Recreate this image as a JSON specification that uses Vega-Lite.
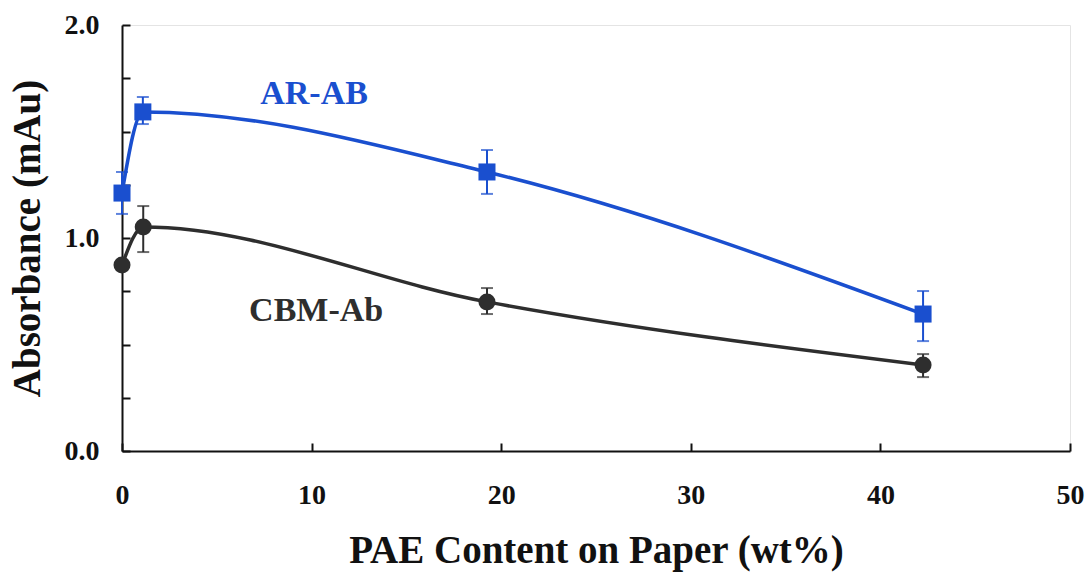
{
  "$schema": "https://vega.github.io/schema/vega-lite/v6.json",
  "width": 948,
  "height": 426,
  "autosize": "none",
  "padding": {"left": 122, "top": 25, "right": 19, "bottom": 121},
  "background": "white",
  "config": {
    "view": {"stroke": "#e4e4e4", "strokeWidth": 1},
    "font": "Liberation Serif",
    "axis": {
      "domainColor": "#111111",
      "domainWidth": 2,
      "tickColor": "#111111",
      "tickWidth": 2,
      "tickSize": -8,
      "grid": false,
      "labelFlush": false,
      "labelOverlap": false,
      "labelFont": "Liberation Serif",
      "labelFontWeight": "bold",
      "labelFontSize": 28,
      "labelColor": "#111111",
      "titleFont": "Liberation Serif",
      "titleFontWeight": "bold",
      "titleFontSize": 39,
      "titleColor": "#111111"
    }
  },
  "data": {
    "values": [
      {"series": "AR-AB", "x": 0, "y": 1.211, "lo": 1.113, "hi": 1.31},
      {"series": "AR-AB", "x": 1.1, "y": 1.592, "lo": 1.535, "hi": 1.662},
      {"series": "AR-AB", "x": 19.25, "y": 1.31, "lo": 1.207, "hi": 1.413},
      {"series": "AR-AB", "x": 42.25, "y": 0.643, "lo": 0.516, "hi": 0.751},
      {"series": "CBM-Ab", "x": 0, "y": 0.873, "lo": null, "hi": null},
      {"series": "CBM-Ab", "x": 1.12, "y": 1.052, "lo": 0.934, "hi": 1.15},
      {"series": "CBM-Ab", "x": 19.25, "y": 0.7, "lo": 0.643, "hi": 0.765},
      {"series": "CBM-Ab", "x": 42.25, "y": 0.404, "lo": 0.347, "hi": 0.455}
    ]
  },
  "encoding": {
    "x": {
      "field": "x", "type": "quantitative",
      "scale": {"domain": [0, 50], "nice": false, "zero": false},
      "axis": {
        "values": [0, 10, 20, 30, 40, 50],
        "labelPadding": 38,
        "title": "PAE Content on Paper (wt%)",
        "titleY": 111,
        "titleBaseline": "alphabetic"
      }
    },
    "y": {
      "field": "y", "type": "quantitative",
      "scale": {"domain": [0, 2], "nice": false},
      "axis": {
        "values": [0, 0.25, 0.5, 0.75, 1, 1.25, 1.5, 1.75, 2],
        "labelExpr": "datum.value % 1 == 0 ? format(datum.value, '.1f') : ''",
        "labelPadding": 31,
        "title": "Absorbance (mAu)",
        "titleX": -95,
        "titleBaseline": "middle"
      }
    },
    "color": {
      "field": "series", "type": "nominal",
      "scale": {"domain": ["AR-AB", "CBM-Ab"], "range": ["#1a4fcf", "#2e2e2e"]},
      "legend": null
    }
  },
  "layer": [
    {
      "mark": {"type": "line", "interpolate": "monotone", "strokeWidth": 3.5}
    },
    {
      "mark": {"type": "rule", "strokeWidth": 2},
      "encoding": {"y": {"field": "lo", "type": "quantitative"}, "y2": {"field": "hi"}}
    },
    {
      "mark": {"type": "tick", "orient": "horizontal", "size": 12, "thickness": 2},
      "encoding": {"y": {"field": "lo", "type": "quantitative"}}
    },
    {
      "mark": {"type": "tick", "orient": "horizontal", "size": 12, "thickness": 2},
      "encoding": {"y": {"field": "hi", "type": "quantitative"}}
    },
    {
      "mark": {"type": "point", "filled": true, "opacity": 1, "size": 290},
      "encoding": {
        "shape": {"field": "series", "type": "nominal", "scale": {"domain": ["AR-AB", "CBM-Ab"], "range": ["square", "circle"]}, "legend": null}
      }
    },
    {
      "data": {
        "values": [
          {"series": "AR-AB", "x": 10.13, "y": 1.628},
          {"series": "CBM-Ab", "x": 10.24, "y": 0.608}
        ]
      },
      "mark": {"type": "text", "font": "Liberation Serif", "fontWeight": "bold", "fontSize": 34, "align": "center", "baseline": "alphabetic"},
      "encoding": {"text": {"field": "series"}}
    }
  ]
}
